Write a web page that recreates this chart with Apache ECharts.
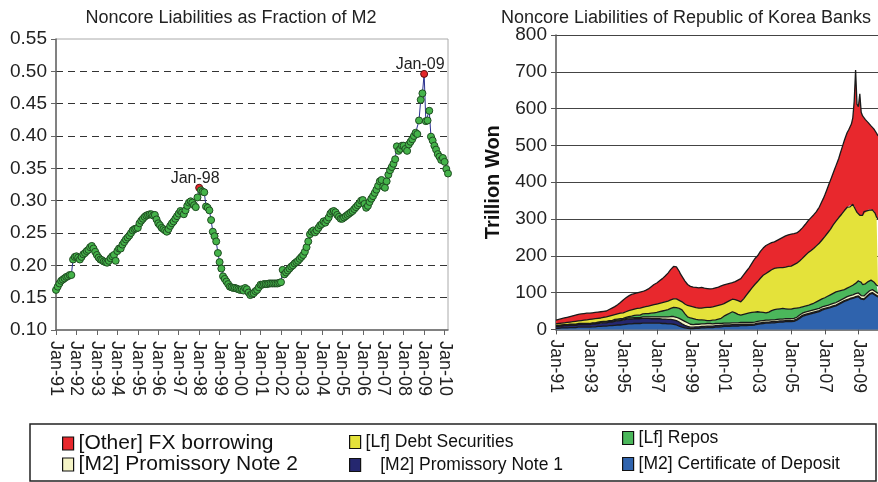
<!DOCTYPE html>
<html>
<head>
<meta charset="utf-8">
<script src="https://cdn.jsdelivr.net/npm/echarts@6/dist/echarts.min.js"></script>
<style>
html,body{margin:0;padding:0;background:#fff;}
#c{width:878px;height:482px;}
</style>
</head>
<body>
<div id="c"></div>
<script>
const FONT = "'Liberation Sans', Arial, Helvetica, sans-serif";

// ---- categories (monthly, Jan-91 .. Mar-10) ----
const monthNames = ['Jan','Feb','Mar','Apr','May','Jun','Jul','Aug','Sep','Oct','Nov','Dec'];
const startYear = 1991;
const monthCount = 231;
const months = [];
for (let i = 0; i < monthCount; i++) {
  const y = startYear + Math.floor(i / 12);
  months.push(monthNames[i % 12] + '-' + String(y % 100).padStart(2, '0'));
}
const highlights = ['Jan-98', 'Jan-09'];

// ---- left chart: noncore liabilities / M2 ----
const fraction = [
0.162,0.167,0.172,0.176,0.178,0.180,0.182,0.183,0.185,0.185,0.209,0.213,
0.214,0.212,0.209,0.213,0.217,0.219,0.222,0.224,0.228,0.230,0.226,0.221,
0.216,0.212,0.209,0.208,0.206,0.205,0.204,0.207,0.211,0.214,0.216,0.207,
0.222,0.226,0.226,0.232,0.236,0.240,0.243,0.246,0.250,0.254,0.256,0.257,
0.258,0.265,0.269,0.272,0.275,0.277,0.278,0.279,0.279,0.277,0.278,0.271,
0.265,0.262,0.258,0.256,0.254,0.252,0.256,0.261,0.265,0.268,0.272,0.276,
0.280,0.284,0.282,0.279,0.285,0.292,0.297,0.299,0.297,0.293,0.290,0.305,
0.320,0.316,0.314,0.313,0.291,0.289,0.285,0.270,0.252,0.245,0.237,0.219,
0.205,0.195,0.183,0.179,0.175,0.171,0.167,0.166,0.165,0.165,0.164,0.163,
0.162,0.163,0.161,0.165,0.163,0.158,0.154,0.156,0.157,0.160,0.162,0.166,
0.170,0.170,0.171,0.171,0.171,0.172,0.172,0.172,0.172,0.172,0.172,0.173,
0.174,0.193,0.186,0.189,0.192,0.195,0.198,0.200,0.203,0.205,0.207,0.210,
0.213,0.216,0.221,0.228,0.237,0.248,0.252,0.254,0.251,0.254,0.258,0.262,
0.264,0.268,0.266,0.270,0.274,0.280,0.283,0.284,0.282,0.278,0.275,0.272,
0.272,0.274,0.276,0.278,0.280,0.282,0.284,0.287,0.290,0.293,0.296,0.300,
0.301,0.295,0.289,0.292,0.298,0.303,0.307,0.312,0.317,0.323,0.330,0.332,
0.322,0.320,0.330,0.340,0.347,0.352,0.357,0.364,0.384,0.377,0.380,0.385,
0.385,0.380,0.377,0.387,0.391,0.395,0.400,0.405,0.403,0.424,0.456,0.466,
0.496,0.423,0.424,0.439,0.399,0.393,0.385,0.379,0.372,0.368,0.363,0.366,
0.360,0.349,0.342
];

// ---- right chart: noncore liabilities (trillion won), stacked ----
const cdDeposit = [
3,3,3,3,4,4,4,4,4,5,5,5,
5,5,5,5,6,6,6,6,6,6,6,6,
6,6,7,7,7,7,8,8,8,8,9,9,
9,9,10,10,10,11,11,11,12,12,12,13,
13,13,14,14,15,15,15,16,16,16,16,16,
16,16,17,17,17,17,17,17,17,17,17,17,
17,17,17,17,16,16,16,16,15,15,15,14,
14,13,12,11,9,8,6,5,4,3,3,2,
2,2,2,3,3,3,3,4,4,4,4,4,
5,5,5,5,5,6,6,6,6,7,7,7,
8,8,8,8,8,9,9,9,9,9,9,10,
10,10,10,10,10,10,11,11,11,12,12,13,
14,14,15,15,16,16,17,17,17,18,18,18,
18,19,19,19,20,20,20,20,21,21,21,21,
21,21,22,23,25,27,30,33,35,37,38,39,
40,41,42,43,44,45,46,47,48,50,52,54,
55,56,57,58,59,60,62,63,64,66,68,70,
72,74,76,78,79,80,82,83,84,86,87,88,
89,86,82,80,81,84,88,92,95,97,98,96,
93,90,88
];
const promNote1 = [
5,5,5,5,5,5,6,6,6,6,6,6,
6,6,6,7,7,7,7,7,7,7,7,7,
7,8,8,8,8,8,8,8,9,9,9,9,
9,10,10,10,10,11,11,11,11,12,12,12,
12,13,13,13,13,13,13,13,13,13,13,13,
13,13,13,13,13,13,13,13,12,12,12,12,
12,12,12,12,12,12,12,12,12,12,12,12,
12,12,12,11,11,10,9,8,7,6,5,4,
4,4,4,4,4,4,4,4,4,4,4,4,
4,4,4,4,4,4,4,4,4,4,4,4,
4,4,4,4,4,4,4,4,4,4,4,4,
4,4,4,4,4,3,3,3,3,3,3,3,
3,3,3,3,3,3,3,3,3,3,3,3,
3,3,3,3,3,3,3,3,3,3,3,3,
3,3,3,3,3,3,3,3,3,3,3,3,
3,3,3,3,3,3,3,3,3,3,3,3,
2,2,2,2,2,2,2,2,2,2,2,2,
2,2,2,2,2,2,2,2,2,2,2,2,
2,2,2,2,2,2,2,2,2,2,2,2,
2,2,2
];
const promNote2 = [
1,1,1,1,1,1,1,1,1,1,1,1,
1,1,1,1,1,1,1,1,1,1,1,1,
1,1,1,1,1,1,2,2,2,2,2,2,
2,2,2,2,2,2,2,2,2,2,2,2,
2,2,2,2,3,3,3,3,3,3,3,3,
3,3,4,4,4,4,4,5,5,5,5,5,
5,5,5,6,6,6,6,7,7,7,8,8,
9,9,9,10,10,11,11,11,11,10,10,9,
8,8,7,7,7,7,7,7,7,7,7,7,
7,7,7,6,6,6,6,6,6,5,5,5,
5,5,5,5,5,5,5,5,5,5,5,5,
5,5,5,5,5,5,5,5,5,5,5,5,
5,5,5,5,5,5,5,5,5,5,5,5,
5,5,5,5,5,5,5,5,5,5,5,5,
5,5,5,5,5,5,6,6,6,6,6,6,
6,6,6,6,6,6,6,6,6,6,6,6,
6,6,6,6,7,7,7,7,7,7,7,7,
7,7,7,7,8,8,8,8,8,8,8,8,
8,8,8,8,8,8,8,8,8,8,8,8,
8,8,8
];
const repos = [
2,2,2,2,2,2,2,2,2,2,2,2,
2,2,2,2,2,2,2,2,2,2,2,2,
2,2,2,2,2,2,2,2,2,2,2,2,
2,2,2,2,2,2,3,3,3,3,3,3,
3,3,4,4,4,5,5,5,6,6,7,7,
7,8,8,8,9,9,9,9,10,10,11,11,
12,13,14,14,16,17,18,18,20,21,22,24,
25,26,26,26,27,27,27,24,21,19,16,17,
17,16,16,14,13,13,12,11,11,10,10,10,
8,8,8,9,10,9,10,11,12,13,14,15,
19,21,23,25,27,28,30,29,27,25,23,21,
20,21,22,23,24,26,26,26,27,26,27,26,
26,26,24,24,22,21,20,21,22,23,25,27,
28,28,28,29,28,29,29,29,27,27,26,26,
26,27,27,26,25,23,20,18,17,16,16,16,
16,16,17,18,18,19,20,21,22,22,22,21,
23,24,25,26,26,27,27,28,29,28,27,26,
25,24,23,23,23,24,24,25,26,27,28,31,
33,38,36,32,30,30,29,28,28,27,24,23,
21,20,20
];
const debtSec = [
4,4,5,5,5,5,5,5,6,5,6,6,
7,7,8,7,7,7,8,8,9,9,10,10,
11,10,10,10,11,12,10,11,10,11,11,11,
12,12,12,13,14,13,13,14,14,14,15,15,
15,16,15,17,16,16,17,17,17,18,18,19,
19,19,18,19,19,20,20,20,21,22,22,23,
23,23,23,23,23,23,23,23,23,23,23,24,
23,24,24,23,22,22,22,24,26,29,31,32,
32,32,32,32,32,31,32,32,32,33,34,34,
36,36,36,37,36,37,37,37,37,37,37,37,
34,34,34,34,34,34,34,35,36,37,37,36,
36,38,42,46,50,54,58,63,67,72,75,79,
82,86,92,96,101,105,107,109,110,111,111,111,
112,111,112,111,112,111,111,112,113,114,116,116,
117,118,119,121,122,125,127,129,132,135,138,141,
143,145,146,147,149,150,152,153,155,157,160,164,
166,169,172,175,178,182,186,189,192,196,200,204,
207,211,215,218,220,221,217,220,220,213,200,189,
183,176,177,188,199,194,195,195,191,192,193,194,
191,185,182
];
const fxBorrow = [
10,11,11,12,12,13,13,14,14,15,15,16,
16,17,17,18,18,18,18,18,18,18,18,18,
17,18,17,17,17,16,17,16,17,16,16,17,
16,17,18,19,20,21,22,23,25,27,29,32,
35,36,38,39,40,41,42,42,42,42,42,42,
43,43,43,43,44,45,47,49,51,53,55,56,
57,59,61,63,65,67,70,73,76,80,83,86,
88,89,87,84,79,72,69,66,63,60,57,55,
54,54,54,54,55,55,55,56,56,55,53,53,
51,51,50,49,50,50,50,50,50,50,51,52,
51,50,49,48,47,46,45,46,49,52,56,60,
63,65,65,65,65,65,65,66,67,68,70,71,
70,72,73,74,74,75,76,75,75,74,74,73,
72,74,75,77,78,80,82,83,85,86,86,87,
87,86,84,83,82,82,82,83,83,83,84,85,
87,88,89,90,91,93,93,96,98,102,105,108,
113,118,123,128,133,137,141,146,151,156,161,169,
177,184,191,197,203,207,217,220,235,284,380,294,
290,330,285,270,255,252,244,237,234,227,224,222,
225,228,226
];

const leftTicks = [0.10,0.15,0.20,0.25,0.30,0.35,0.40,0.45,0.50,0.55];
const rightTicks = [0,100,200,300,400,500,600,700,800];

const stackDefs = [
  {name:'[M2] Certificate of Deposit', data:cdDeposit, color:'#2f63ad'},
  {name:'[M2] Promissory Note 1', data:promNote1, color:'#25276f'},
  {name:'[M2] Promissory Note 2', data:promNote2, color:'#f5f4c6'},
  {name:'[Lf] Repos', data:repos, color:'#4bb75b'},
  {name:'[Lf] Debt Securities', data:debtSec, color:'#e4e23a'},
  {name:'[Other] FX borrowing', data:fxBorrow, color:'#e8282d'}
];

const chart = echarts.init(document.getElementById('c'), null, {renderer:'canvas'});

const leftData = fraction.map((v, i) => {
  if (highlights.indexOf(months[i]) >= 0) {
    return {
      value: v,
      symbolSize: 7,
      itemStyle: {color:'#e4262a', borderColor:'#5a1010', borderWidth:1},
      label: {show:true, position:'top', distance:3, offset:[-4,6], formatter: months[i],
              fontSize:16, color:'#222', fontFamily:FONT}
    };
  }
  return v;
});

function legendItem(name, left, top, fontSize, extra) {
  return Object.assign({
    data:[name], left:left, top:top, orient:'horizontal', icon:'rect',
    itemWidth:11, itemHeight:13, selectedMode:false, padding:0,
    itemStyle:{borderColor:'#111', borderWidth:1.2},
    textStyle:{fontSize:fontSize, color:'#111', fontFamily:FONT}
  }, extra || {});
}

const option = {
  animation:false,
  backgroundColor:'#fff',
  textStyle:{fontFamily:FONT},
  title:[
    {text:'Noncore Liabilities as Fraction of M2', left:226, top:4, textAlign:'center',
     textStyle:{fontSize:18, fontWeight:'normal', color:'#222', fontFamily:FONT}},
    {text:'Noncore Liabilities of Republic of Korea Banks', left:681, top:4, textAlign:'center',
     textStyle:{fontSize:18, fontWeight:'normal', color:'#222', fontFamily:FONT}}
  ],
  grid:[
    {left:56, top:39, width:392, height:291, show:true, borderColor:'#aaa', borderWidth:1, backgroundColor:'transparent'},
    {left:556, top:35, width:322, height:294.4}
  ],
  xAxis:[
    {type:'category', gridIndex:0, data:months, boundaryGap:false,
     axisLine:{lineStyle:{color:'#666', width:1.5}},
     axisTick:{show:true, interval:(i)=> i % 12 === 0, length:5, lineStyle:{color:'#666'}},
     axisLabel:{interval:(i)=> i % 12 === 0, rotate:-90, margin:11, fontSize:18, color:'#222', fontFamily:FONT},
     splitLine:{show:false}},
    {type:'category', gridIndex:1, data:months, boundaryGap:false,
     axisLine:{lineStyle:{color:'#555', width:1.5}},
     axisTick:{show:true, interval:(i)=> i % 24 === 0, length:5, lineStyle:{color:'#555'}},
     axisLabel:{interval:(i)=> i % 24 === 0, rotate:-90, margin:10, fontSize:17.5, color:'#222', fontFamily:FONT},
     splitLine:{show:false}}
  ],
  yAxis:[
    {type:'value', gridIndex:0, min:leftTicks[0], max:leftTicks[leftTicks.length-1], interval:0.05,
     axisLine:{show:true, lineStyle:{color:'#666', width:1.5}},
     axisTick:{show:true, length:5, lineStyle:{color:'#666'}},
     axisLabel:{formatter:(v)=> v.toFixed(2), fontSize:19, color:'#222', margin:9, fontFamily:FONT},
     splitLine:{show:true, showMinLine:false, showMaxLine:false, lineStyle:{color:'#333', type:[7,5], width:1}}},
    {type:'value', gridIndex:1, min:rightTicks[0], max:rightTicks[rightTicks.length-1], interval:100,
     name:'Trillion Won', nameLocation:'middle', nameRotate:90, nameGap:53,
     nameTextStyle:{fontSize:20, fontWeight:'bold', color:'#111', fontFamily:FONT},
     axisLine:{show:true, lineStyle:{color:'#555', width:1.5}},
     axisTick:{show:true, length:5, lineStyle:{color:'#555'}},
     axisLabel:{fontSize:19, color:'#222', margin:9, fontFamily:FONT},
     splitLine:{show:true, showMinLine:false,
       lineStyle:{color:['#444','#444','#444','#444','#444','#444','#444','#444','#c4c4c4'], width:1.2}}}
  ],
  legend:[
    legendItem('[Other] FX borrowing', 62, 433, 21),
    legendItem('[M2] Promissory Note 2', 62, 454, 21),
    legendItem('[Lf] Debt Securities', 349, 433, 17.5),
    legendItem('[M2] Promissory Note 1', 349, 456, 17.5, {formatter:(n)=> '   ' + n}),
    legendItem('[Lf] Repos', 622, 429, 17.5),
    legendItem('[M2] Certificate of Deposit', 622, 455, 17.5)
  ],
  graphic:[
    {type:'rect', shape:{x:30, y:424, width:846, height:57},
     style:{fill:'none', stroke:'#222', lineWidth:1.5}, z:100}
  ],
  series:[
    {name:'fraction', type:'line', xAxisIndex:0, yAxisIndex:0, data:leftData,
     symbol:'circle', symbolSize:7, showSymbol:true, showAllSymbol:true,
     lineStyle:{color:'#2b318f', width:1},
     itemStyle:{color:'#45b34a', borderColor:'#1f4d22', borderWidth:1},
     emphasis:{disabled:true}, z:3}
  ].concat(stackDefs.map((d) => ({
     name:d.name, type:'line', xAxisIndex:1, yAxisIndex:1, stack:'total', data:d.data,
     symbol:'none', showSymbol:false, color:d.color,
     itemStyle:{color:d.color},
     lineStyle:{color:'#1a1a1a', width:1.3},
     areaStyle:{color:d.color, opacity:1},
     emphasis:{disabled:true}
  })))
};
chart.setOption(option);
</script>
</body>
</html>
